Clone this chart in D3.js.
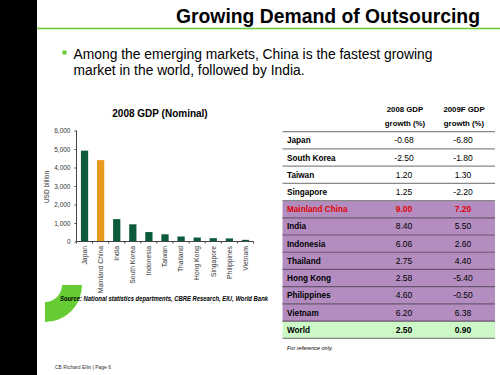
<!DOCTYPE html>
<html><head><meta charset="utf-8">
<script src="https://cdn.jsdelivr.net/npm/d3@7"></script>
<style>body{margin:0;background:#fff}svg{display:block;font-family:"Liberation Sans",Arial,sans-serif}</style>
</head><body>
<script>
const categories = ["Japan","Mainland China","India","South Korea","Indonesia","Taiwan","Thailand","Hong Kong","Singapore","Philippines","Vietnam"];
const gdp2008 = [4910, 4400, 1210, 930, 510, 390, 270, 215, 180, 167, 90];
const yTicks = [0,1000,2000,3000,4000,5000,6000];
const tableCountries = ["Japan","South Korea","Taiwan","Singapore","Mainland China","India","Indonesia","Thailand","Hong Kong","Philippines","Vietnam","World"];
const growth2008 = [-0.68,-2.50,1.20,1.25,9.00,8.40,6.06,2.75,2.58,4.60,6.20,2.50];
const growth2009F = [-6.80,-1.80,1.30,-2.20,7.20,5.50,2.60,4.40,-5.40,-0.50,6.38,0.90];
const rowGroup = ["plain","plain","plain","plain","highlight","purple","purple","purple","purple","purple","purple","world"];

const W=500,H=375;
const svg=d3.select("body").append("svg").attr("width",W).attr("height",H);
svg.append("rect").attr("width",W).attr("height",H).attr("fill","#fff");

// left band + ring
const defs=svg.append("defs");
defs.append("clipPath").attr("id","band").append("rect").attr("x",0).attr("y",0).attr("width",37).attr("height",H);
svg.append("rect").attr("x",0).attr("y",0).attr("width",37).attr("height",H).attr("fill","#000");
svg.append("path").attr("clip-path","url(#band)")
  .attr("d",d3.arc().innerRadius(17).outerRadius(37).startAngle(0).endAngle(2*Math.PI)())
  .attr("transform","translate(45,285)").attr("fill","#66cc33");

// title
svg.append("text").attr("x",176).attr("y",23)
  .attr("font-size",20.5).attr("font-weight","bold").attr("fill","#000")
  .attr("textLength",304).attr("lengthAdjust","spacingAndGlyphs").text("Growing Demand of Outsourcing");
svg.append("line").attr("x1",37).attr("x2",500).attr("y1",28.5).attr("y2",28.5).attr("stroke","#66cc33").attr("stroke-width",1.5);

// bullet
svg.append("rect").attr("x",62.5).attr("y",50.5).attr("width",4).attr("height",4).attr("fill","#66cc33");
const bl=["Among the emerging markets, China is the fastest growing","market in the world, followed by India."];
svg.append("text").attr("x",73.5).attr("y",58.5).attr("font-size",14).attr("fill","#000")
  .attr("textLength",359).attr("lengthAdjust","spacingAndGlyphs").text(bl[0]);
svg.append("text").attr("x",73.5).attr("y",74.5).attr("font-size",14).attr("fill","#000")
  .attr("textLength",231).attr("lengthAdjust","spacingAndGlyphs").text(bl[1]);

// bar chart
const x=d3.scaleBand().domain(categories).range([76.5,253.5]).paddingInner(0.55).paddingOuter(0.275);
const y=d3.scaleLinear().domain([0,6000]).range([241.5,130.5]);
svg.append("text").attr("x",160).attr("y",117).attr("text-anchor","middle").attr("font-size",10).attr("font-weight","bold").text("2008 GDP (Nominal)");
svg.selectAll("rect.bar").data(categories).join("rect").attr("class","bar")
  .attr("x",d=>x(d)).attr("width",x.bandwidth())
  .attr("y",(d,i)=>y(gdp2008[i])).attr("height",(d,i)=>y(0)-y(gdp2008[i]))
  .attr("fill",d=>d==="Mainland China"?"#e69a1e":"#0b5a3a");
const ya=svg.append("g").attr("transform","translate(76.5,0)")
  .call(d3.axisLeft(y).tickValues(yTicks).tickFormat(d3.format(",")).tickSize(2).tickPadding(4));
ya.select(".domain").attr("stroke","#444").attr("d","M0,"+y(6000)+"V"+y(0));
ya.selectAll(".tick line").attr("stroke","#444");
ya.selectAll("text").attr("font-size",6.5).attr("fill","#333").attr("font-family","Liberation Sans, Arial, sans-serif");
// x axis
const step=x.step();
svg.append("line").attr("x1",76.5).attr("x2",253.5).attr("y1",241.5).attr("y2",241.5).attr("stroke","#444");
svg.selectAll("line.xt").data(d3.range(categories.length+1)).join("line").attr("class","xt")
  .attr("x1",i=>76.5+i*step).attr("x2",i=>76.5+i*step).attr("y1",241.5).attr("y2",243.5).attr("stroke","#444");
svg.selectAll("text.xl").data(categories).join("text").attr("class","xl")
  .attr("transform",d=>`translate(${x(d)+x.bandwidth()/2+2.3},246) rotate(-90)`)
  .attr("text-anchor","end").attr("font-size",6.8).attr("fill","#333").text(d=>d);
svg.append("text").attr("transform","translate(49,187) rotate(-90)").attr("text-anchor","middle")
  .attr("font-size",6.5).attr("fill","#333").text("USD billion");
svg.append("text").attr("x",60).attr("y",301).attr("font-size",6.6).attr("font-weight","bold").attr("font-style","italic")
  .attr("textLength",208).attr("lengthAdjust","spacingAndGlyphs")
  .text("Source: National statistics departments, CBRE Research, EIU, World Bank");
svg.append("text").attr("x",55).attr("y",369).attr("font-size",5).attr("fill","#333").text("CB Richard Ellis | Page 6");

// table
const tx0=282.5,tx1=495,ty0=131.7,rh=17.22;
const c2=404,c3=463;
const hdr=svg.append("g").attr("font-size",7.8).attr("font-weight","bold").attr("text-anchor","middle");
hdr.append("text").attr("x",c2+1).attr("y",112).text("2008 GDP");
hdr.append("text").attr("x",c2+1).attr("y",125.5).text("growth (%)");
hdr.append("text").attr("x",c3+1).attr("y",112).text("2009F GDP");
hdr.append("text").attr("x",c3+1).attr("y",125.5).text("growth (%)");
const fills={plain:"#fff",highlight:"#b38dc0",purple:"#b38dc0",world:"#ccf7c6"};
const rows=svg.selectAll("g.row").data(tableCountries).join("g").attr("class","row")
  .attr("transform",(d,i)=>`translate(0,${ty0+i*rh})`);
rows.append("rect").attr("x",tx0).attr("width",tx1-tx0).attr("height",rh).attr("fill",(d,i)=>fills[rowGroup[i]]);
const fmt=d3.format(".2f");
const col=(i)=>rowGroup[i]==="highlight"?"#e00000":"#000";
rows.append("text").attr("x",287).attr("y",rh/2+3).attr("font-size",8.2).attr("font-weight","bold").attr("fill",(d,i)=>col(i)).text(d=>d);
rows.append("text").attr("x",c2).attr("y",rh/2+3).attr("text-anchor","middle").attr("font-size",8.5)
  .attr("font-weight",(d,i)=>rowGroup[i]==="highlight"||rowGroup[i]==="world"?"bold":"normal")
  .attr("fill",(d,i)=>col(i)).text((d,i)=>fmt(growth2008[i]).replace("−","-"));
rows.append("text").attr("x",c3).attr("y",rh/2+3).attr("text-anchor","middle").attr("font-size",8.5)
  .attr("font-weight",(d,i)=>rowGroup[i]==="highlight"||rowGroup[i]==="world"?"bold":"normal")
  .attr("fill",(d,i)=>col(i)).text((d,i)=>fmt(growth2009F[i]).replace("−","-"));
svg.selectAll("line.rl").data(d3.range(tableCountries.length+1)).join("line").attr("class","rl")
  .attr("x1",tx0).attr("x2",tx1).attr("y1",i=>ty0+i*rh).attr("y2",i=>ty0+i*rh)
  .attr("stroke",i=>i>=5&&i<=11?"#6a5570":"#888").attr("stroke-width",1.2);
svg.append("text").attr("x",287).attr("y",350).attr("font-size",5.5).attr("font-style","italic").text("For reference only.");
</script>
</body></html>
